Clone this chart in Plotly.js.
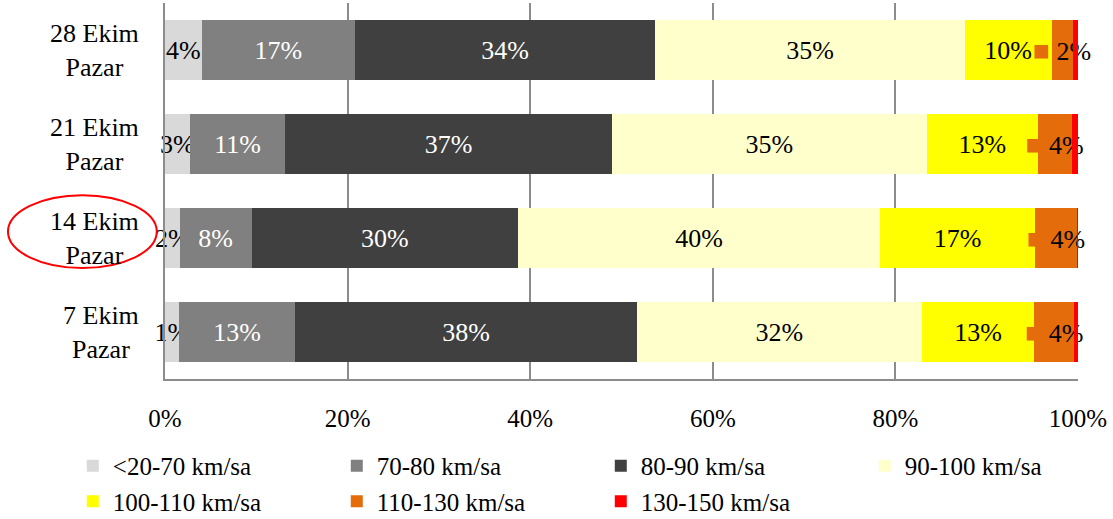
<!DOCTYPE html>
<html>
<head>
<meta charset="utf-8">
<script src="https://cdn.plot.ly/plotly-3.0.1.min.js"></script>
<style>
    html, body { margin: 0; padding: 0; background: #fff; }
    #chart { width: 1113px; height: 519px; }
</style>
</head>
<body>
<div id="chart"></div>
<script>
// Kategoriler (alttan üste)
const categories = ['7 Ekim<br>Pazar', '14 Ekim<br>Pazar', '21 Ekim<br>Pazar', '28 Ekim<br>Pazar'];

// Hız sınıfları
const seriesNames = ['<20-70 km/sa', '70-80 km/sa', '80-90 km/sa', '90-100 km/sa', '100-110 km/sa', '110-130 km/sa', '130-150 km/sa'];
const seriesColors = ['#D9D9D9', '#808080', '#404040', '#FFFFCC', '#FFFF00', '#E46C0A', '#FF0000'];
const labelColors = ['#000', '#fff', '#fff', '#000', '#000', '#000', '#000'];

// Pay değerleri (%)
const v20_70 = [1.5, 1.6, 2.7, 4.0];
const v70_80 = [12.8, 7.9, 10.5, 16.8];
const v80_90 = [37.4, 29.2, 35.8, 32.9];
const v90_100 = [31.3, 39.7, 34.5, 33.9];
const v100_110 = [12.3, 17.0, 12.2, 9.5];
const v110_130 = [4.4, 4.6, 3.7, 2.3];
const v130_150 = [0.4, 0.1, 0.7, 0.6];

// Çubuk etiketleri
const t20_70 = ['1%', '2%', '3%', '4%'];
const t70_80 = ['13%', '8%', '11%', '17%'];
const t80_90 = ['38%', '30%', '37%', '34%'];
const t90_100 = ['32%', '40%', '35%', '35%'];
const t100_110 = ['13%', '17%', '13%', '10%'];
const t110_130 = ['4%', '4%', '4%', '2%'];
const t130_150 = ['', '', '', ''];

const xTicks = [0, 20, 40, 60, 80, 100];

const FONT = '"Liberation Serif", "Times New Roman", serif';

const allValues = [v20_70, v70_80, v80_90, v90_100, v100_110, v110_130, v130_150];
const allTexts = [t20_70, t70_80, t80_90, t90_100, t100_110, t110_130, t130_150];

// Excel tarzı etiket anahtarı (110-130 serisinde görünen küçük kare)
function labelText(i, t) {
    if (!t) return '';
    if (i === 5) return '<span style="font-size:28px;color:' + seriesColors[i] + '">■</span> ' + t;
    return t;
}

const data = allValues.map((vals, i) => ({
    y: categories,
    x: vals,
    name: seriesNames[i],
    type: 'bar',
    orientation: 'h',
    text: allTexts[i].map(t => labelText(i, t)),
    textposition: 'inside',
    insidetextanchor: 'middle',
    constraintext: 'none',
    cliponaxis: false,
    textangle: 0,
    textfont: {
        family: FONT,
        size: 26,
        color: labelColors[i]
    },
    marker: {
        color: seriesColors[i],
        line: { width: 0 }
    },
    hoverinfo: 'name+x'
}));

// Y ekseni etiketleri (ortalanmış, iki satır)
const yLabels = categories.map(c => ({
    x: -0.026,
    xref: 'paper',
    xanchor: 'right',
    y: c,
    yref: 'y',
    yanchor: 'middle',
    text: c,
    align: 'center',
    showarrow: false,
    font: { family: FONT, size: 26, color: '#000' }
}));

const layout = {
    width: 1113,
    height: 519,
    barmode: 'stack',
    barnorm: 'percent',
    bargap: 0.355,
    margin: { l: 165, r: 35, t: 3, b: 140, autoexpand: false },
    paper_bgcolor: '#fff',
    plot_bgcolor: '#fff',
    font: { family: FONT, color: '#000' },
    xaxis: {
        range: [0, 100],
        tickvals: xTicks,
        ticktext: xTicks.map(v => v + '%'),
        showgrid: true,
        gridcolor: '#8C8C8C',
        gridwidth: 2,
        zeroline: false,
        showline: true,
        linecolor: '#8C8C8C',
        linewidth: 2,
        ticks: '',
        ticklabelstandoff: 16,
        tickfont: { family: FONT, size: 25, color: '#000' },
        fixedrange: true
    },
    yaxis: {
        type: 'category',
        categoryorder: 'array',
        categoryarray: categories,
        showticklabels: false,
        showgrid: false,
        zeroline: false,
        showline: true,
        linecolor: '#8C8C8C',
        linewidth: 2,
        ticks: '',
        fixedrange: true
    },
    legend: {
        orientation: 'h',
        x: -0.101,
        xanchor: 'left',
        y: -0.17,
        yanchor: 'top',
        entrywidth: 219,
        traceorder: 'normal',
        font: { family: FONT, size: 25, color: '#000' },
        bgcolor: 'rgba(0,0,0,0)'
    },
    annotations: yLabels,
    shapes: [{
        type: 'circle',
        xref: 'paper',
        yref: 'paper',
        x0: -0.172,
        x1: -0.009,
        y0: 0.295,
        y1: 0.489,
        line: { color: '#FF0000', width: 2 }
    }]
};

const config = {
    displayModeBar: false,
    responsive: false
};

Plotly.newPlot('chart', data, layout, config);
</script>
</body>
</html>
